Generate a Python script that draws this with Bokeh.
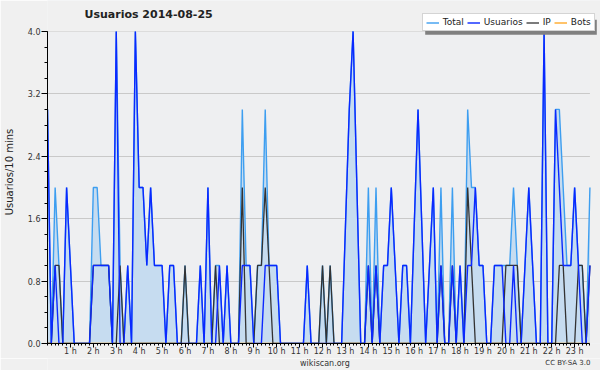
from bokeh.plotting import figure
from bokeh.layouts import column
from bokeh.models import (FixedTicker, NumeralTickFormatter, Legend, LegendItem,
                          Label, BoxAnnotation, ColumnDataSource, Range1d)
from bokeh.embed import file_html
from bokeh.resources import INLINE

# 10-minute slots of 2014-08-25 (slot 0 = 00:00)
slots = list(range(143))
total = [
    3, 0, 2, 1, 0, 2, 1, 0, 0, 0,
    0, 0, 2, 2, 1, 1, 1, 0, 4, 1,
    0, 1, 0, 4, 2, 2, 1, 2, 1, 1,
    1, 0, 1, 1, 0, 0, 1, 0, 0, 0,
    1, 0, 2, 0, 1, 1, 0, 1, 0, 0,
    0, 3, 1, 1, 0, 1, 1, 3, 1, 1,
    1, 0, 0, 0, 0, 0, 0, 0, 1, 0,
    0, 0, 1, 0, 1, 0, 0, 0, 1.5, 3,
    4, 2, 0, 0, 2, 0, 2, 0, 1, 1,
    2, 1, 0, 1, 1, 0, 1.5, 3, 1.5, 0,
    1, 2, 0, 2, 0, 0, 2, 0, 1, 0,
    3, 2, 2, 1, 1, 0, 0, 1, 1, 1,
    1, 1, 2, 1, 0, 1, 2, 1, 0, 0,
    4, 0, 0, 3, 3, 2, 1, 1, 2, 1,
    1, 0, 2]
usuarios = [
    3, 0, 1, 0, 0, 2, 1, 0, 0, 0,
    0, 0, 1, 1, 1, 1, 1, 0, 4, 0,
    0, 1, 0, 4, 2, 2, 1, 2, 1, 1,
    1, 0, 1, 1, 0, 0, 0, 0, 0, 0,
    1, 0, 2, 0, 0, 1, 0, 1, 0, 0,
    0, 1, 1, 1, 0, 0, 0, 1, 1, 1,
    1, 0, 0, 0, 0, 0, 0, 0, 1, 0,
    0, 0, 0, 0, 0, 0, 0, 0, 1.5, 3,
    4, 2, 0, 0, 1, 0, 1, 0, 1, 1,
    2, 1, 0, 1, 1, 0, 1.5, 3, 1.5, 0,
    1, 2, 0, 1, 0, 0, 1, 0, 1, 0,
    1, 1, 2, 1, 1, 0, 0, 1, 1, 1,
    0, 0, 1, 0, 0, 1, 2, 1, 0, 0,
    4, 0, 0, 3, 2, 1, 1, 1, 2, 1,
    0, 0, 1]
ip = [
    0, 0, 1, 1, 0, 0, 0, 0, 0, 0,
    0, 0, 1, 1, 1, 1, 1, 0, 0, 1,
    0, 0, 0, 0, 0, 0, 0, 0, 0, 0,
    0, 0, 0, 0, 0, 0, 1, 0, 0, 0,
    0, 0, 0, 0, 1, 0, 0, 0, 0, 0,
    0, 2, 0, 0, 0, 1, 1, 2, 1, 0,
    0, 0, 0, 0, 0, 0, 0, 0, 0, 0,
    0, 0, 1, 0, 1, 0, 0, 0, 0, 0,
    0, 0, 0, 0, 1, 0, 1, 0, 0, 0,
    0, 0, 0, 0, 0, 0, 0, 0, 0, 0,
    0, 0, 0, 1, 0, 0, 1, 0, 0, 0,
    2, 1, 0, 0, 0, 0, 0, 0, 0, 0,
    1, 1, 1, 1, 0, 0, 0, 0, 0, 0,
    0, 0, 0, 0, 1, 1, 0, 0, 0, 1,
    1, 0, 1]
bots = [
    0, 0, 0, 0, 0, 0, 0, 0, 0, 0,
    0, 0, 0, 0, 0, 0, 0, 0, 0, 0,
    0, 0, 0, 0, 0, 0, 0, 0, 0, 0,
    0, 0, 0, 0, 0, 0, 0, 0, 0, 0,
    0, 0, 0, 0, 0, 0, 0, 0, 0, 0,
    0, 0, 0, 0, 0, 0, 0, 0, 0, 0,
    0, 0, 0, 0, 0, 0, 0, 0, 0, 0,
    0, 0, 0, 0, 0, 0, 0, 0, 0, 0,
    0, 0, 0, 0, 0, 0, 0, 0, 0, 0,
    0, 0, 0, 0, 0, 0, 0, 0, 0, 0,
    0, 0, 0, 0, 0, 0, 0, 0, 0, 0,
    0, 0, 0, 0, 0, 0, 0, 0, 0, 0,
    0, 0, 0, 0, 0, 0, 0, 0, 0, 0,
    0, 0, 0, 0, 0, 0, 0, 0, 0, 0,
    0, 0, 0]
hour_slots = [6, 12, 18, 24, 30, 36, 42, 48, 54, 60, 66, 72, 78, 84, 90, 96,
              102, 108, 114, 120, 126, 132, 138]
hour_labels = ["1 h", "2 h", "3 h", "4 h", "5 h", "6 h", "7 h", "8 h", "9 h",
               "10 h", "11 h", "12 h", "13 h", "14 h", "15 h", "16 h", "17 h",
               "18 h", "19 h", "20 h", "21 h", "22 h", "23 h"]
y_ticks = [0.0, 0.8, 1.6, 2.4, 3.2, 4.0]
y_minor = [0.0, 0.2, 0.4, 0.6, 0.8, 1.0, 1.2, 1.4, 1.6, 1.8, 2.0, 2.2, 2.4,
           2.6, 2.8, 3.0, 3.2, 3.4, 3.6, 3.8, 4.0]

OUTER = "#f0f0f0"
PLOT_BG = "#eeeff1"

src = ColumnDataSource(dict(x=slots, total=total, usuarios=usuarios, ip=ip, bots=bots))

# frame runs to the top and right edges so title/legend sit inside it;
# axes are bounded to the real plotting area
p = figure(width=600, height=358, output_backend="svg", toolbar_location=None,
           x_range=Range1d(0, 144.77), y_range=Range1d(0, 4.396),
           min_border_left=47, min_border_right=0, min_border_top=0,
           min_border_bottom=14)
p.background_fill_color = PLOT_BG
p.border_fill_color = OUTER
p.outline_line_color = None

# outer-colour bands above and right of the plotting area
p.add_layout(BoxAnnotation(bottom=4.0, fill_color=OUTER, fill_alpha=1.0,
                           line_color=None, level="underlay"))
p.add_layout(BoxAnnotation(left=142, fill_color=OUTER, fill_alpha=1.0,
                           line_color=None, level="underlay"))

p.varea(x="x", y1=0, y2="total", source=src, fill_color="#c6dcf0", fill_alpha=1.0)
r_bots = p.line("x", "bots", source=src, line_color="#ffa31a", line_width=1.3)
r_total = p.line("x", "total", source=src, line_color="#3d9ef0", line_width=1.4)
r_ip = p.line("x", "ip", source=src, line_color="#333333", line_width=1.3)
r_us = p.line("x", "usuarios", source=src, line_color="#0a28ff", line_width=1.4)

# axes
p.xaxis.ticker = FixedTicker(ticks=hour_slots, minor_ticks=slots)
p.xaxis.major_label_overrides = {s: l for s, l in zip(hour_slots, hour_labels)}
p.xaxis.bounds = (0, 142)
p.yaxis.ticker = FixedTicker(ticks=y_ticks, minor_ticks=y_minor)
p.yaxis.formatter = NumeralTickFormatter(format="0.0")
p.yaxis.bounds = (0, 4.0)
for ax in (p.xaxis[0], p.yaxis[0]):
    ax.axis_line_color = "black"
    ax.major_tick_line_color = "black"
    ax.minor_tick_line_color = "black"
    ax.major_tick_in = 0
    ax.minor_tick_in = 0
    ax.major_label_text_font = "DejaVu Sans"
    ax.major_label_text_font_size = "8px"
    ax.major_label_text_color = "#333333"
p.xaxis.major_tick_out = 4
p.xaxis.minor_tick_out = 2
p.xaxis.major_label_standoff = -1
p.yaxis.major_tick_out = 6
p.yaxis.minor_tick_out = 3
p.yaxis.major_label_standoff = 1
p.yaxis.axis_label = "Usuarios/10 mins"
p.yaxis.axis_label_standoff = 10
p.yaxis.axis_label_text_font = "DejaVu Sans"
p.yaxis.axis_label_text_font_style = "normal"
p.yaxis.axis_label_text_font_size = "10px"
p.yaxis.axis_label_text_color = "#222222"

p.xgrid.grid_line_color = None
p.ygrid.ticker = FixedTicker(ticks=y_ticks)
p.ygrid.bounds = (0, 142)
p.ygrid.grid_line_color = "#c9c9c9"
p.ygrid.grid_line_width = 1

# chart title
p.add_layout(Label(x=37, y=323, x_units="screen", y_units="screen",
                   text="Usuarios  2014-08-25", text_font="DejaVu Sans",
                   text_font_style="bold", text_font_size="11px",
                   text_color="#222222"))

# legend shadow + legend
p.add_layout(BoxAnnotation(left=377.7, right=549.3, bottom=308.7, top=323.7,
                           left_units="screen", right_units="screen",
                           bottom_units="screen", top_units="screen",
                           fill_color="#808080", fill_alpha=1.0, line_color=None))
legend = Legend(items=[LegendItem(label="Total", renderers=[r_total]),
                       LegendItem(label="Usuarios", renderers=[r_us]),
                       LegendItem(label="IP", renderers=[r_ip]),
                       LegendItem(label="Bots", renderers=[r_bots])],
                orientation="horizontal", location=(374.7, 311.7),
                glyph_width=13, glyph_height=9, label_standoff=4, spacing=3,
                padding=3, margin=0, label_height=9, label_width=0,
                label_text_font="DejaVu Sans", label_text_font_size="9px",
                label_text_color="#222222", background_fill_color="white",
                background_fill_alpha=1.0, border_line_color="#aaaaaa",
                border_line_width=1)
p.add_layout(legend, "center")

# footer strip
foot = figure(width=600, height=12, output_backend="svg", toolbar_location=None,
              x_range=Range1d(0, 600), y_range=Range1d(0, 12),
              x_axis_location=None, y_axis_location=None,
              min_border=0)
foot.background_fill_color = OUTER
foot.border_fill_color = OUTER
foot.outline_line_color = None
foot.grid.grid_line_color = None
foot.add_layout(Label(x=301, y=7.5, text="wikiscan.org", text_align="center",
                      text_baseline="middle", text_font="DejaVu Sans",
                      text_font_size="8px", text_color="#333333"))
foot.add_layout(Label(x=589, y=7.5, text="CC BY-SA 3.0", text_align="right",
                      text_baseline="middle", text_font="DejaVu Sans",
                      text_font_size="7px", text_color="#333333"))

layout = column(p, foot, spacing=0)
open("out.html", "w").write(file_html(layout, INLINE))
